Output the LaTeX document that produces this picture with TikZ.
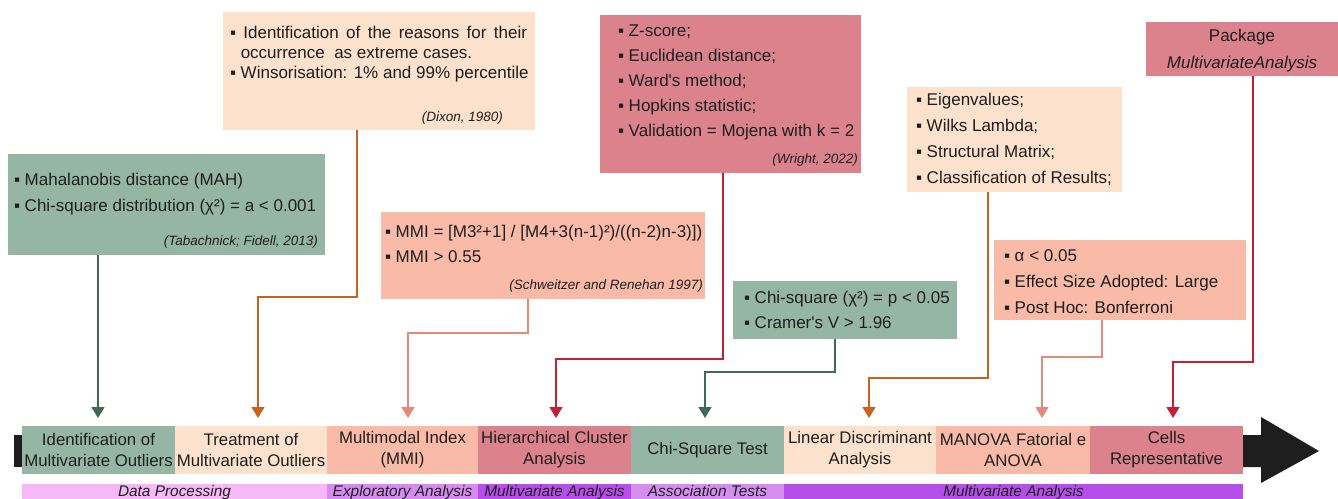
\documentclass[tikz,border=0pt]{standalone}
\usepackage{fontspec}
\setmainfont{Liberation Sans}[Ligatures=TeXOff]
\usetikzlibrary{arrows.meta}
\definecolor{cgreen}{HTML}{96B6A5}
\definecolor{cpeach}{HTML}{FCE1CC}
\definecolor{csalmon}{HTML}{F9BBA7}
\definecolor{cpink}{HTML}{DB828C}
\definecolor{agreen}{HTML}{3E6B51}
\definecolor{aorange}{HTML}{C6631C}
\definecolor{asalmon}{HTML}{E48A78}
\definecolor{acrimson}{HTML}{C0213A}
\definecolor{pA}{HTML}{F6B8F6}
\definecolor{pB}{HTML}{D58BF0}
\definecolor{pC}{HTML}{B94DEC}
\definecolor{pD}{HTML}{D58DF0}
\definecolor{pE}{HTML}{B64FEA}
\definecolor{dark}{HTML}{1E1E1E}
\tikzset{
  box/.style={inner sep=0pt, outer sep=0pt, anchor=north west},
  txt/.style={inner sep=0pt, outer sep=0pt, anchor=base west, align=left, text=dark},
  cite/.style={inner sep=0pt, outer sep=0pt, anchor=base east, text=dark, font=\fontsize{13.5}{16}\selectfont\itshape},
  seg/.style={inner sep=0pt, outer sep=0pt, minimum height=48pt, align=center, text=dark, font=\fontsize{16.8}{21}\selectfont},
  cat/.style={inner sep=0pt, outer sep=0pt, text height=12pt, text depth=14pt, anchor=north, text=dark, font=\fontsize{15.4}{16}\selectfont\itshape},
  conn/.style={line width=1.4pt, shorten >=8pt, -{Triangle[width=13pt,length=11pt]}},
}
\newcommand{\bl}{▪ }
\begin{document}
\begin{tikzpicture}[x=1pt,y=-1pt]
\useasboundingbox (0,0) rectangle (1338,498);

% top boxes
\node[box, fill=cgreen, minimum width=317pt, minimum height=101pt] (b1) at (8,154) {};
\node[box, fill=cpeach, minimum width=312pt, minimum height=118pt] (b2) at (223,12) {};
\node[box, fill=csalmon, minimum width=324pt, minimum height=87pt] (b3) at (381,212) {};
\node[box, fill=cpink, minimum width=261pt, minimum height=158pt] (b4) at (600,15) {};
\node[box, fill=cgreen, minimum width=224pt, minimum height=58pt] (b5) at (733,281) {};
\node[box, fill=cpeach, minimum width=215pt, minimum height=105pt] (b6) at (907,87) {};
\node[box, fill=csalmon, minimum width=252pt, minimum height=80pt] (b7) at (994,240) {};
\node[box, fill=cpink, minimum width=192pt, minimum height=54pt] (b8) at (1146,22) {};

% box texts (anchored at the baseline of their last line)
\node[txt, font=\fontsize{17}{26}\selectfont] (t1) at (14,211) {\bl Mahalanobis distance (MAH)\\\bl Chi-square distribution (χ²) = a < 0.001};
\node[cite] (r1) at (318,245) {(Tabachnick; Fidell, 2013)};

\node[txt, font=\fontsize{17}{20}\selectfont] (t2) at (230,78) {\makebox[297pt][s]{\bl Identification of the reasons for their}\\\phantom{\bl}occurrence\ \ as extreme cases.\\\bl Winsorisation: 1\% and 99\% percentile};
\node[cite] (r2) at (503,121) {(Dixon, 1980)};

\node[txt, font=\fontsize{17}{25}\selectfont] (t3) at (385,262) {\bl MMI = [M3²+1] / [M4+3(n-1)²)/((n-2)n-3)])\\\bl MMI > 0.55};
\node[cite] (r3) at (703,289) {(Schweitzer and Renehan 1997)};

\node[txt, font=\fontsize{17}{25}\selectfont] (t4) at (618,136) {\bl Z-score;\\\bl Euclidean distance;\\\bl Ward's method;\\\bl Hopkins statistic;\\\bl Validation = Mojena with k = 2};
\node[cite] (r4) at (858,163) {(Wright, 2022)};

\node[txt, font=\fontsize{17}{25}\selectfont] (t5) at (744,328) {\bl Chi-square (χ²) = p < 0.05\\\bl Cramer's V > 1.96};

\node[txt, font=\fontsize{17}{25.7}\selectfont] (t6) at (916,183) {\bl Eigenvalues;\\\bl Wilks Lambda;\\\bl Structural Matrix;\\\bl Classification of Results;};

\node[txt, font=\fontsize{17}{26}\selectfont] (t7) at (1004,313) {\bl α < 0.05\\\bl Effect Size Adopted: Large\\\bl Post Hoc: Bonferroni};

\node[inner sep=0pt, anchor=base, align=center, text=dark, font=\fontsize{17}{27}\selectfont] (t8) at (1242,68) {Package\\\textit{MultivariateAnalysis}};

% timeline bar
\fill[dark] (14,435) rectangle (22,467);
\node[seg, fill=cgreen, minimum width=153pt] (s1) at (98.5,450) {Identification of\\Multivariate Outliers};
\node[seg, fill=cpeach, minimum width=152pt] (s2) at (251,450) {Treatment of\\Multivariate Outliers};
\node[seg, fill=csalmon, minimum width=151pt] (s3) at (402.5,450) {Multimodal Index\\(MMI)};
\node[seg, fill=cpink, minimum width=153pt] (s4) at (554.5,450) {Hierarchical Cluster\\Analysis};
\node[seg, fill=cgreen, minimum width=153pt] (s5) at (707.5,450) {Chi-Square Test};
\node[seg, fill=cpeach, minimum width=152pt] (s6) at (860,450) {Linear Discriminant\\Analysis};
\node[seg, fill=csalmon, minimum width=154pt] (s7) at (1013,450) {MANOVA Fatorial e\\ANOVA};
\node[seg, fill=cpink, minimum width=153pt] (s8) at (1166.5,450) {Cells\\Representative};
\fill[dark] (1243,435) -- (1261,435) -- (1261,417) -- (1319,451) -- (1261,483) -- (1261,467) -- (1243,467) -- cycle;

% category strip
\node[cat, fill=pA, minimum width=305pt] (c1) at (174.5,484) {Data Processing};
\node[cat, fill=pB, minimum width=151pt] (c2) at (402.5,484) {Exploratory Analysis};
\node[cat, fill=pC, minimum width=153pt] (c3) at (554.5,484) {Multivariate Analysis};
\node[cat, fill=pD, minimum width=153pt] (c4) at (707.5,484) {Association Tests};
\node[cat, fill=pE, minimum width=459pt] (c5) at (1013.5,484) {Multivariate Analysis};

% connectors
\draw[conn, agreen] (b1.south -| 98,0) -- (s1.north -| 98,0);
\draw[conn, aorange] (b2.south -| 357,0) |- (258,297) -- (s2.north -| 258,0);
\draw[conn, asalmon] (b3.south -| 528,0) |- (408,333) -- (s3.north -| 408,0);
\draw[conn, acrimson] (b4.south -| 723,0) |- (556,359) -- (s4.north -| 556,0);
\draw[conn, agreen] (b5.south -| 835,0) |- (705,372) -- (s5.north -| 705,0);
\draw[conn, aorange] (b6.south -| 988,0) |- (869,378) -- (s6.north -| 869,0);
\draw[conn, asalmon] (b7.south -| 1102,0) |- (1042,357) -- (s7.north -| 1042,0);
\draw[conn, acrimson] (b8.south -| 1253,0) |- (1173,362) -- (s8.north -| 1173,0);
\end{tikzpicture}
\end{document}
